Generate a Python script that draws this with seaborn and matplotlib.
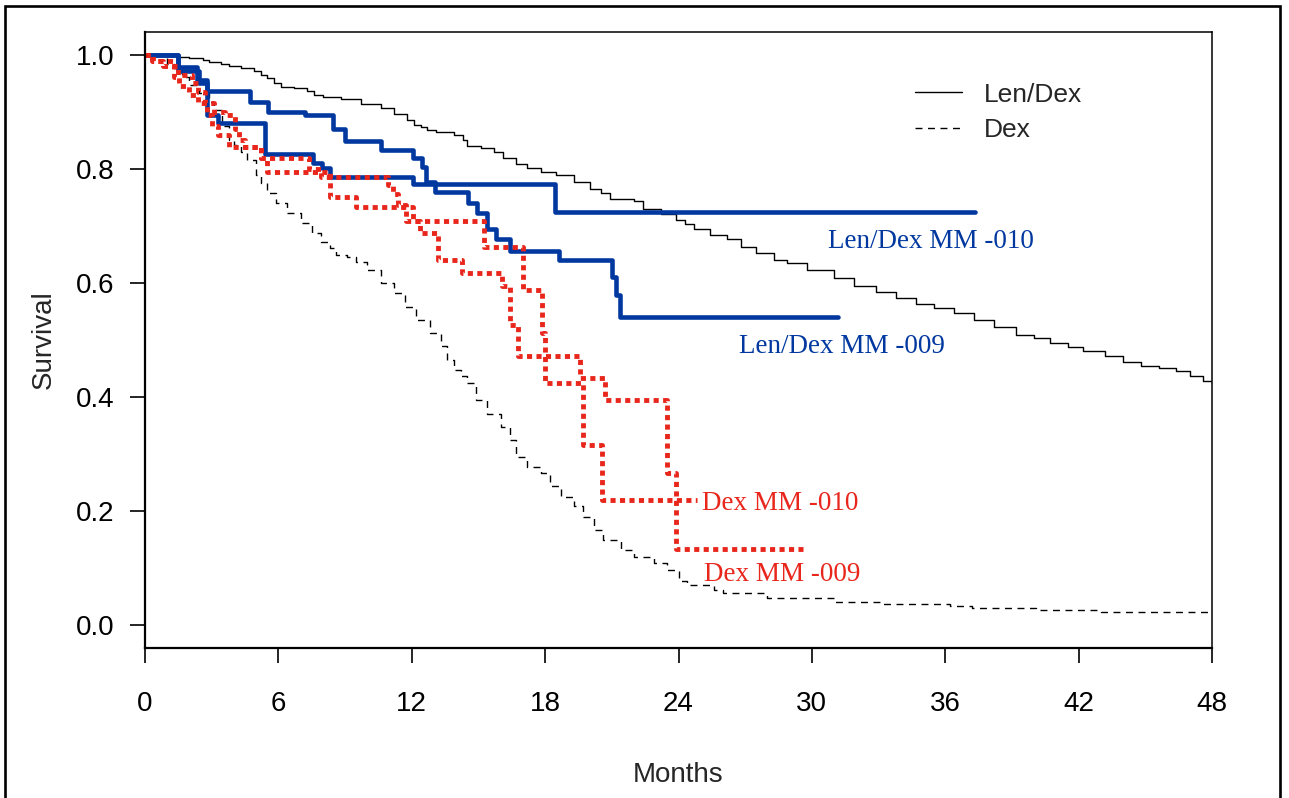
import matplotlib
matplotlib.use("Agg")
import matplotlib.pyplot as plt
from matplotlib.lines import Line2D
from matplotlib.patches import Rectangle
import pandas as pd
import seaborn as sns

# ---- Kaplan-Meier step data (months, survival probability) ----
# pooled Len/Dex
lendex_t = [0, 1.5, 2.0, 2.6, 2.9, 3.4, 3.8, 4.3, 4.9, 5.2, 5.5, 5.8, 6.1, 6.7, 7.3, 7.6, 8.0,
            8.8, 9.7, 10.6, 11.2, 11.8, 12.1, 12.4, 12.7, 13.1, 13.9, 14.3, 14.5, 15.1, 15.7,
            16.1, 16.7, 17.2, 17.8, 18.5, 19.3, 20.0, 20.5, 20.9, 22.0, 22.4, 23.2, 23.9, 24.3,
            24.7, 25.4, 26.2, 26.8, 27.5, 28.3, 28.9, 29.8, 31.0, 31.9, 32.9, 33.8, 34.7, 35.5,
            36.4, 37.3, 38.2, 39.2, 40.0, 40.7, 41.5, 42.2, 43.2, 44.0, 44.8, 45.6, 46.4, 47.0,
            47.6, 48.0]
lendex_s = [1.0, 0.997, 0.994, 0.991, 0.988, 0.985, 0.981, 0.977, 0.972, 0.965, 0.959, 0.950,
            0.944, 0.942, 0.936, 0.930, 0.927, 0.923, 0.914, 0.907, 0.896, 0.886, 0.877, 0.874,
            0.868, 0.865, 0.860, 0.851, 0.840, 0.836, 0.830, 0.819, 0.808, 0.801, 0.795, 0.789,
            0.778, 0.765, 0.758, 0.748, 0.743, 0.730, 0.721, 0.711, 0.703, 0.694, 0.684, 0.678,
            0.664, 0.652, 0.640, 0.635, 0.623, 0.608, 0.594, 0.585, 0.573, 0.564, 0.556, 0.547,
            0.535, 0.523, 0.509, 0.503, 0.494, 0.488, 0.480, 0.472, 0.462, 0.455, 0.450, 0.446,
            0.437, 0.428, 0.422]

# pooled Dex
dex_t = [0, 1.0, 1.3, 1.65, 2.0, 2.45, 2.9, 3.1, 3.45, 3.8, 4.0, 4.3, 4.6, 5.0, 5.2, 5.5, 5.9,
         6.4, 7.0, 7.5, 7.9, 8.3, 8.6, 9.1, 9.5, 10.0, 10.6, 11.2, 11.7, 12.2, 12.8, 13.3, 13.6,
         13.9, 14.2, 14.5, 14.9, 15.4, 16.0, 16.4, 16.7, 17.2, 17.8, 18.2, 18.7, 19.3, 19.7,
         20.2, 20.6, 21.4, 22.0, 22.9, 23.5, 24.0, 24.4, 25.6, 26.0, 28.0, 31.0, 33.2, 36.2,
         37.2, 40.1, 43.0, 48.0]
dex_s = [1.0, 0.985, 0.977, 0.962, 0.947, 0.933, 0.918, 0.904, 0.876, 0.851, 0.842, 0.830,
         0.816, 0.789, 0.775, 0.758, 0.740, 0.722, 0.705, 0.687, 0.672, 0.661, 0.649, 0.645,
         0.637, 0.622, 0.600, 0.582, 0.558, 0.535, 0.512, 0.490, 0.465, 0.447, 0.436, 0.424,
         0.395, 0.371, 0.348, 0.325, 0.295, 0.278, 0.266, 0.243, 0.225, 0.208, 0.190, 0.167,
         0.149, 0.132, 0.120, 0.108, 0.096, 0.078, 0.070, 0.061, 0.057, 0.047, 0.041, 0.036,
         0.033, 0.029, 0.026, 0.022, 0.022]

# Len/Dex by trial
ld010_t = [0, 1.5, 2.45, 2.78, 3.3, 5.4, 7.56, 7.95, 8.32, 12.07, 18.44, 37.34]
ld010_s = [1.0, 0.972, 0.95, 0.895, 0.88, 0.826, 0.81, 0.801, 0.786, 0.774, 0.725, 0.725]

ld009_t = [0, 1.5, 2.32, 2.78, 4.72, 5.55, 7.2, 8.44, 9.0, 10.6, 12.04, 12.45, 12.64, 13.05,
           14.55, 14.95, 15.37, 15.8, 16.42, 18.64, 21.0, 21.19, 21.37, 31.17]
ld009_s = [1.0, 0.979, 0.956, 0.936, 0.918, 0.90, 0.895, 0.871, 0.849, 0.833, 0.819, 0.804,
           0.778, 0.760, 0.740, 0.722, 0.695, 0.678, 0.657, 0.640, 0.61, 0.579, 0.541, 0.541]

# Dex by trial
d010_t = [0, 0.3, 1.3, 1.5, 2.1, 2.4, 2.7, 3.1, 3.6, 4.05, 4.25, 4.5, 5.2, 7.4, 7.9, 10.93,
          11.15, 11.4, 11.75, 15.25, 17.02, 17.84, 17.99, 19.72, 20.54, 24.85]
d010_s = [1.0, 0.99, 0.98, 0.965, 0.95, 0.935, 0.915, 0.9, 0.895, 0.87, 0.85, 0.839, 0.819,
          0.80, 0.786, 0.772, 0.757, 0.736, 0.709, 0.664, 0.588, 0.512, 0.425, 0.316, 0.219,
          0.219]

d009_t = [0, 0.35, 0.8, 1.3, 1.55, 2.0, 2.4, 2.8, 3.0, 3.3, 3.8, 5.2, 5.5, 8.3, 9.5, 12.05,
          12.37, 13.2, 14.25, 16.04, 16.42, 16.8, 19.57, 20.7, 23.47, 23.89, 29.6]
d009_s = [1.0, 0.99, 0.98, 0.962, 0.945, 0.93, 0.915, 0.895, 0.875, 0.86, 0.839, 0.819, 0.795,
          0.751, 0.734, 0.708, 0.687, 0.640, 0.618, 0.595, 0.526, 0.472, 0.433, 0.395, 0.266,
          0.133, 0.133]

x_ticks = [0, 6, 12, 18, 24, 30, 36, 42, 48]
y_ticks = [0.0, 0.2, 0.4, 0.6, 0.8, 1.0]

BLUE = "#0038A0"
RED = "#E8261C"

sns.set_style("ticks")
plt.rcParams["font.family"] = ["Liberation Sans", "DejaVu Sans"]

fig = plt.figure(figsize=(12.89, 7.98), dpi=100)
ax = fig.add_axes([0.11249, 0.18822, 0.82778, 0.77143])


def km(t, s, **kw):
    df = pd.DataFrame({"Months": t, "Survival": s})
    sns.lineplot(data=df, x="Months", y="Survival", drawstyle="steps-post",
                 estimator=None, sort=False, ax=ax, legend=False, **kw)


km(lendex_t, lendex_s, color="black", linewidth=1.0, linestyle="-")
km(dex_t, dex_s, color="black", linewidth=1.0, linestyle=(0, (5.0, 4.0)))
km(ld010_t, ld010_s, color=BLUE, linewidth=3.3, linestyle="-")
km(ld009_t, ld009_s, color=BLUE, linewidth=3.3, linestyle="-")
km(d010_t, d010_s, color=RED, linewidth=3.5, linestyle=(0, (1.05, 0.9)),
   dash_capstyle="butt")
km(d009_t, d009_s, color=RED, linewidth=3.5, linestyle=(0, (1.05, 0.9)),
   dash_capstyle="butt")

# curve labels
serif = ["Liberation Serif", "DejaVu Serif"]
ax.text(30.71, 0.662, "Len/Dex MM -010", color=BLUE, fontsize=19.5, family=serif, va="baseline")
ax.text(26.73, 0.477, "Len/Dex MM -009", color=BLUE, fontsize=19.5, family=serif, va="baseline")
ax.text(25.04, 0.202, "Dex MM -010", color=RED, fontsize=19.5, family=serif, va="baseline")
ax.text(25.15, 0.078, "Dex MM -009", color=RED, fontsize=19.5, family=serif, va="baseline")

# legend for the pooled arms
handles = [Line2D([], [], color="black", lw=1.0, linestyle="-"),
           Line2D([], [], color="black", lw=1.0, linestyle=(0, (5.0, 4.0)))]
ax.legend(handles, ["Len/Dex", "Dex"], loc="upper left", bbox_to_anchor=(0.7216, 0.918),
          frameon=False, fontsize=19, handlelength=1.8, handletextpad=0.8,
          labelspacing=0.42, borderpad=0, borderaxespad=0)

ax.set_xlim(0, 48)
ax.set_ylim(-0.04, 1.04)
ax.set_xticks(x_ticks)
ax.set_xticklabels([str(v) for v in x_ticks])
ax.set_yticks(y_ticks)
ax.set_yticklabels([f"{v:.1f}" for v in y_ticks])
ax.tick_params(axis="both", direction="out", length=11, width=1.2, labelsize=20,
               color="black", labelcolor="black")
ax.tick_params(axis="x", pad=20)
ax.tick_params(axis="y", pad=11)

for side in ["left", "bottom"]:
    ax.spines[side].set_linewidth(1.6)
for side in ["top", "right"]:
    ax.spines[side].set_linewidth(1.1)
for sp in ax.spines.values():
    sp.set_color("black")
    sp.set_visible(True)

ax.set_xlabel("Months", fontsize=20)
ax.set_ylabel("Survival", fontsize=20)
ax.xaxis.set_label_coords(0.5, -0.186)
ax.yaxis.set_label_coords(-0.083, 0.5)

# frame around the whole figure
fig.patches.append(Rectangle((5.3 / 1289, -0.05), (1280 - 5.3) / 1289, 1.05 - 6.2 / 798,
                             transform=fig.transFigure, fill=False, lw=1.9,
                             edgecolor="black", zorder=10))

fig.savefig("out.png", dpi=100, facecolor="white")
